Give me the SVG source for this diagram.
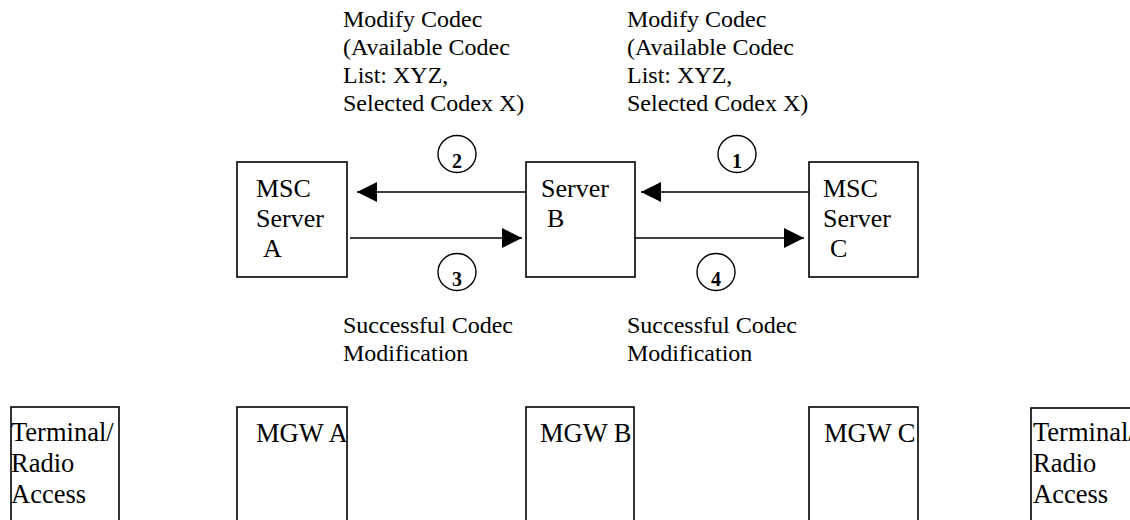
<svg xmlns="http://www.w3.org/2000/svg" width="1130" height="520" viewBox="0 0 1130 520">
<style>
  .box { fill: #fff; stroke: #000; stroke-width: 1.6; }
  .t { font-family: "Liberation Serif", "Times New Roman", serif; font-size: 24px; fill: #000; }
  .b { font-family: "Liberation Serif", "Times New Roman", serif; font-size: 26px; fill: #000; }
  .bb { font-family: "Liberation Serif", "Times New Roman", serif; font-size: 26.5px; fill: #000; }
  .num { font-family: "Liberation Serif", "Times New Roman", serif; font-size: 20px; font-weight: bold; fill: #000; text-anchor: middle; }
  .circ { fill: none; stroke: #000; stroke-width: 1.4; }
  .line { stroke: #000; stroke-width: 1.6; fill: none; }
</style>
<defs>
  <marker id="ah" markerWidth="20" markerHeight="20" refX="20" refY="10" orient="auto" markerUnits="userSpaceOnUse">
    <path d="M0,0 L20,10 L0,20 Z" fill="#000"/>
  </marker>
</defs>
<rect width="1130" height="520" fill="#fff"/>

<g id="label-top-left">
  <text class="t" x="343" y="27">Modify Codec</text>
  <text class="t" x="343" y="55">(Available Codec</text>
  <text class="t" x="343" y="83">List: XYZ,</text>
  <text class="t" x="343" y="111">Selected Codex X)</text>
</g>
<g id="label-top-right">
  <text class="t" x="627" y="27">Modify Codec</text>
  <text class="t" x="627" y="55">(Available Codec</text>
  <text class="t" x="627" y="83">List: XYZ,</text>
  <text class="t" x="627" y="111">Selected Codex X)</text>
</g>
<g id="label-bottom-left">
  <text class="t" x="343" y="333">Successful Codec</text>
  <text class="t" x="343" y="361">Modification</text>
</g>
<g id="label-bottom-right">
  <text class="t" x="627" y="333">Successful Codec</text>
  <text class="t" x="627" y="361">Modification</text>
</g>

<g id="msc-a">
  <rect class="box" x="237" y="162" width="110" height="115"/>
  <text class="b" x="256" y="197">MSC</text>
  <text class="b" x="256" y="227">Server</text>
  <text class="b" x="263" y="257">A</text>
</g>
<g id="server-b">
  <rect class="box" x="526" y="162" width="109" height="115"/>
  <text class="b" x="541" y="197">Server</text>
  <text class="b" x="547" y="227">B</text>
</g>
<g id="msc-c">
  <rect class="box" x="809" y="162" width="109" height="115"/>
  <text class="b" x="823" y="197">MSC</text>
  <text class="b" x="823" y="227">Server</text>
  <text class="b" x="830" y="257">C</text>
</g>

<g id="connectors">
  <line class="line" x1="526" y1="192" x2="357" y2="192" marker-end="url(#ah)"/>
  <line class="line" x1="350" y1="238" x2="522" y2="238" marker-end="url(#ah)"/>
  <line class="line" x1="809" y1="192" x2="641" y2="192" marker-end="url(#ah)"/>
  <line class="line" x1="635" y1="238" x2="804" y2="238" marker-end="url(#ah)"/>
</g>

<g id="step-2">
  <ellipse class="circ" cx="457" cy="154" rx="19" ry="18.5"/>
  <text class="num" x="457" y="168">2</text>
</g>
<g id="step-3">
  <ellipse class="circ" cx="457" cy="272" rx="19" ry="18.5"/>
  <text class="num" x="457" y="286">3</text>
</g>
<g id="step-1">
  <ellipse class="circ" cx="737" cy="154" rx="19" ry="18.5"/>
  <text class="num" x="737" y="168">1</text>
</g>
<g id="step-4">
  <ellipse class="circ" cx="716" cy="272" rx="19" ry="18.5"/>
  <text class="num" x="716" y="286">4</text>
</g>

<g id="terminal-left">
  <rect class="box" x="11" y="407" width="108" height="120"/>
  <text class="bb" x="11" y="441">Terminal/</text>
  <text class="bb" x="11" y="472">Radio</text>
  <text class="bb" x="11" y="503">Access</text>
</g>
<g id="mgw-a">
  <rect class="box" x="237" y="407" width="110" height="120"/>
  <text class="bb" x="256" y="442">MGW A</text>
</g>
<g id="mgw-b">
  <rect class="box" x="526" y="407" width="108" height="120"/>
  <text class="bb" x="540" y="442">MGW B</text>
</g>
<g id="mgw-c">
  <rect class="box" x="809" y="407" width="109" height="120"/>
  <text class="bb" x="824" y="442">MGW C</text>
</g>
<g id="terminal-right">
  <rect class="box" x="1031" y="408" width="120" height="120"/>
  <text class="bb" x="1033" y="441">Terminal/</text>
  <text class="bb" x="1033" y="472">Radio</text>
  <text class="bb" x="1033" y="503">Access</text>
</g>
</svg>
